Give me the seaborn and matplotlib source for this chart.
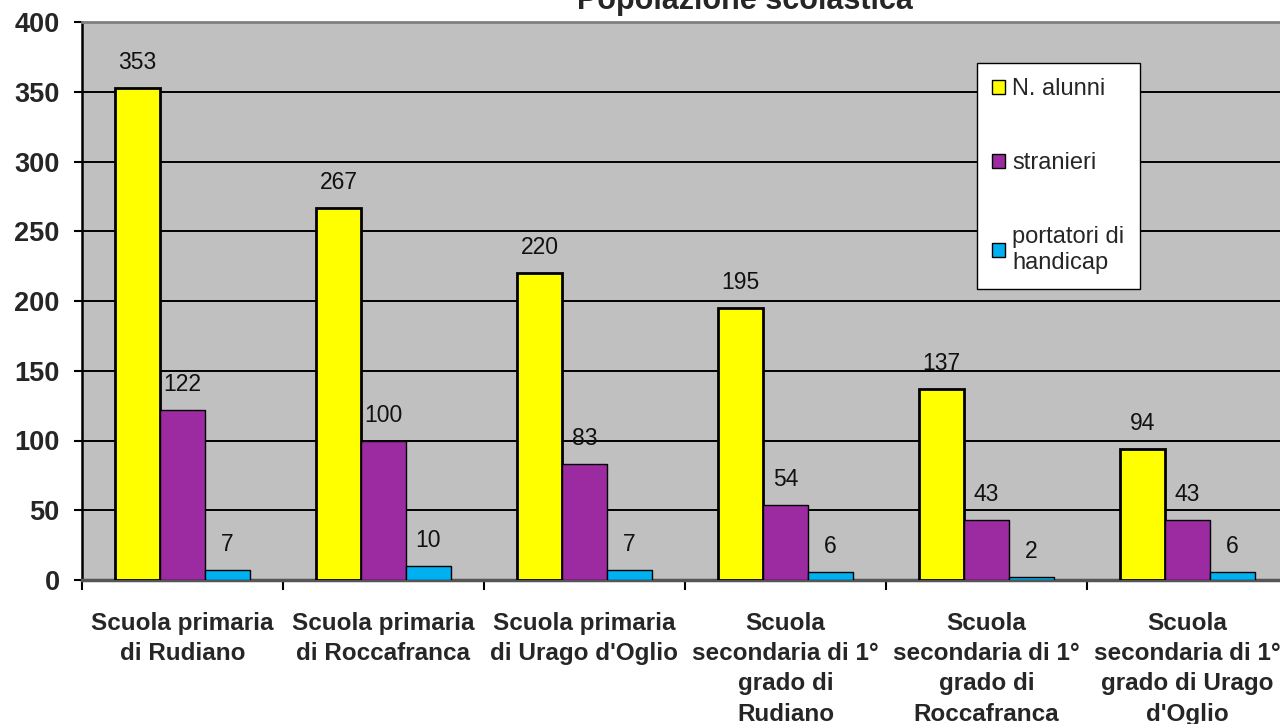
import pandas as pd
import matplotlib
matplotlib.use('Agg')
import matplotlib.pyplot as plt
import seaborn as sns

# dati
scuole = ['Scuola primaria\ndi Rudiano', 'Scuola primaria\ndi Roccafranca',
          "Scuola primaria\ndi Urago d'Oglio", 'Scuola\nsecondaria di 1°\ngrado di\nRudiano',
          'Scuola\nsecondaria di 1°\ngrado di\nRoccafranca', "Scuola\nsecondaria di 1°\ngrado di Urago\nd'Oglio"]
serie = ['N. alunni', 'stranieri', 'portatori di\nhandicap']
alunni = [353, 267, 220, 195, 137, 94]
stranieri = [122, 100, 83, 54, 43, 43]
handicap = [7, 10, 7, 6, 2, 6]
colori = ['#FFFF00', '#9C2AA0', '#00B0F0']

bd = pd.DataFrame({
    'scuola': scuole * 3,
    'serie': [serie[0]] * 6 + [serie[1]] * 6 + [serie[2]] * 6,
    'valore': alunni + stranieri + handicap,
})

sns.set_style('white')
plt.rcParams['font.family'] = ['Liberation Sans', 'DejaVu Sans']

fig = plt.figure(figsize=(12.8, 7.24), dpi=100)
ax = fig.add_axes([82 / 1280, 1 - 580 / 724, 1206 / 1280, 558 / 724])
ax.set_facecolor('#C0C0C0')

sns.barplot(data=bd, x='scuola', y='valore', hue='serie', palette=colori,
            width=0.67, edgecolor='black', linewidth=1, saturation=1,
            ax=ax, zorder=3)

# bordo piu spesso per le barre gialle
for i, cont in enumerate(ax.containers):
    for b in cont:
        b.set_linewidth(2 if i == 0 else 1)
    ax.bar_label(cont, fontsize=16.5, padding=10, color='#111111')

ax.set_ylim(0, 400)
ax.set_xlim(-0.5, 5.5)
ax.set_yticks(range(0, 401, 50))
ax.yaxis.grid(True, color='black', linewidth=1.4, zorder=0)
ax.set_axisbelow(True)
ax.set_xlabel('')
ax.set_ylabel('')

ax.tick_params(axis='y', labelsize=19.5, length=6, width=1.5, color='black', left=True, pad=10)
for t in ax.get_yticklabels():
    t.set_fontweight('bold')
ax.tick_params(axis='x', which='major', length=0, labelsize=17.5, pad=23)
for t in ax.get_xticklabels():
    t.set_fontweight('bold')
    t.set_linespacing(1.4)
ax.set_xticks([x + 0.5 for x in range(-1, 6)], minor=True)
ax.tick_params(axis='x', which='minor', length=7, width=1.5, color='black', bottom=True)

ax.spines['left'].set_color('black')
ax.spines['left'].set_linewidth(1.8)
ax.spines['bottom'].set_color('#555555')
ax.spines['bottom'].set_linewidth(2.5)
ax.spines['top'].set_color('#808080')
ax.spines['top'].set_linewidth(2)
ax.spines['right'].set_visible(False)

ax.legend(loc='upper left', bbox_to_anchor=(977 / 1280, 1 - 63 / 724),
          bbox_transform=fig.transFigure, frameon=True, fancybox=False,
          edgecolor='black', framealpha=1, fontsize=17, labelspacing=2.2,
          handlelength=0.55, handleheight=0.55, handletextpad=0.3,
          borderpad=0.65, borderaxespad=0)

fig.text(745 / 1280, 1 - 9 / 724, 'Popolazione scolastica', ha='center', va='baseline',
         fontsize=22, fontweight='bold')

fig.savefig('out.png', dpi=100)
